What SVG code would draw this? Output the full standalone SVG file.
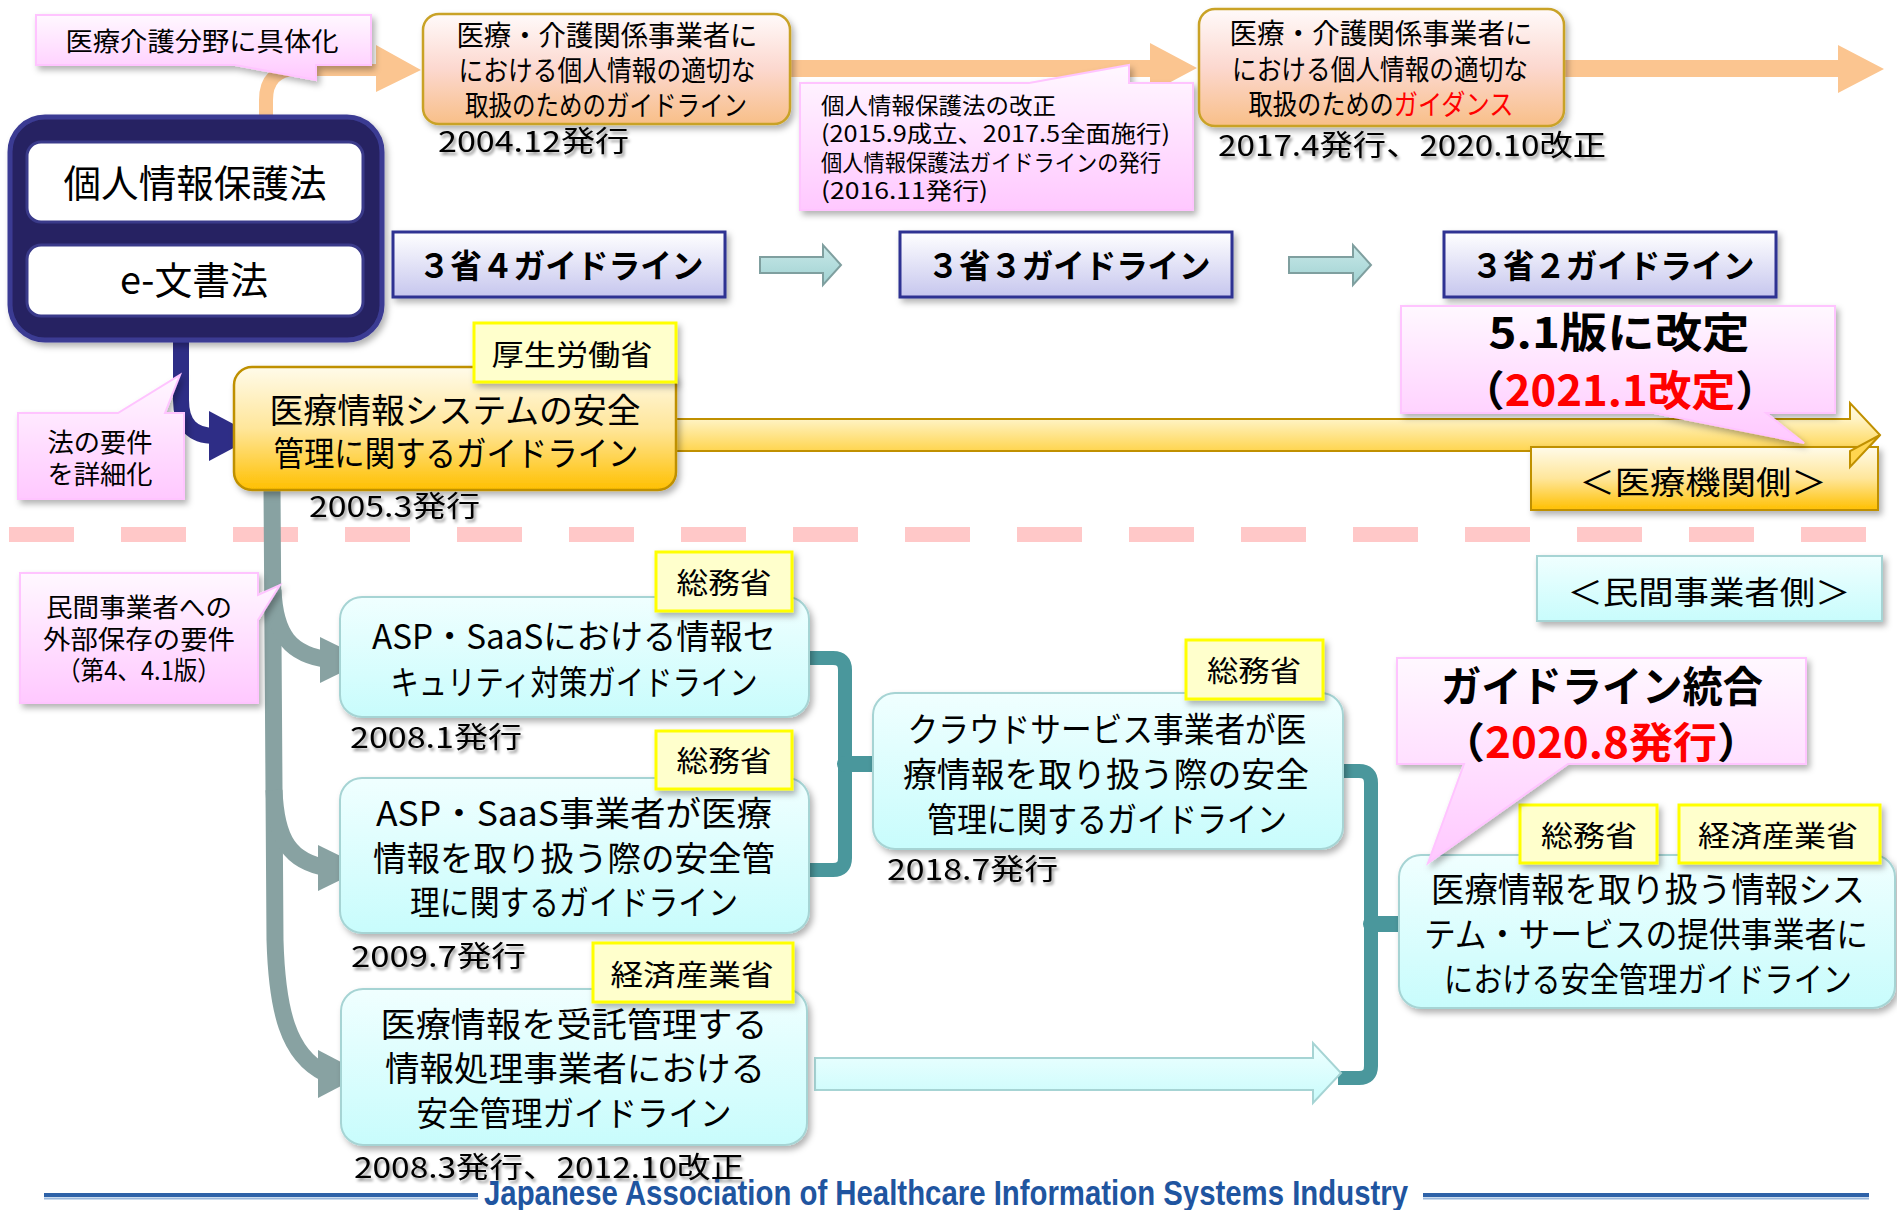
<svg xmlns="http://www.w3.org/2000/svg" width="1897" height="1210" viewBox="0 0 1897 1210">
<defs>
<style>
.t{font-family:'Noto Sans CJK JP','Noto Sans',sans-serif;fill:#000}
.c{text-anchor:middle}
.b{font-weight:bold}
.red{fill:#ff0000}
.f22{font-size:23px}.f26{font-size:26px}.f28{font-size:28px}.f29{font-size:29px}.f32{font-size:32px}.f34{font-size:34px}.f38{font-size:38px}.f42{font-size:42px}
.callout{fill:url(#gPink);stroke:#ffc4ff;stroke-width:2;filter:url(#sh)}
.orange{fill:url(#gOrange);stroke:#c9a227;stroke-width:2.5;filter:url(#sh)}
.lav{fill:url(#gLav);stroke:#2e3192;stroke-width:3;filter:url(#sh)}
.cyan{fill:url(#gCyan);stroke:#a6d4d4;stroke-width:2;filter:url(#sh)}
.lbl{fill:#ffffcc;stroke:#ffff00;stroke-width:3;filter:url(#sh)}
.date{filter:url(#ts)}
.oarrow{fill:#fbc590}
.gray{fill:none;stroke:#88a2a2;stroke-width:17}
.grayh{fill:#88a2a2}
.brk{fill:none;stroke:#4a979c;stroke-width:14}
.knob{fill:none;stroke:#4a979c;stroke-width:16;stroke-linecap:round}
.teal{fill:url(#gTeal);stroke:#7f9f9f;stroke-width:2}
</style>
<linearGradient id="gPink" x1="0" y1="0" x2="0" y2="1"><stop offset="0" stop-color="#fff8ff"/><stop offset="1" stop-color="#ffc8ff"/></linearGradient>
<linearGradient id="gOrange" x1="0" y1="0" x2="0" y2="1"><stop offset="0" stop-color="#fffafa"/><stop offset="0.5" stop-color="#fcd8cf"/><stop offset="1" stop-color="#f8bf88"/></linearGradient>
<linearGradient id="gLav" x1="0" y1="0" x2="0" y2="1"><stop offset="0" stop-color="#ffffff"/><stop offset="1" stop-color="#c6c6ee"/></linearGradient>
<linearGradient id="gCyan" x1="0" y1="0" x2="0" y2="1"><stop offset="0" stop-color="#f0ffff"/><stop offset="1" stop-color="#c8fcfc"/></linearGradient>
<linearGradient id="gAmber" x1="0" y1="0" x2="0" y2="1"><stop offset="0" stop-color="#fffbea"/><stop offset="0.5" stop-color="#ffe69a"/><stop offset="1" stop-color="#ffc000"/></linearGradient>
<linearGradient id="gArrow" x1="0" y1="0" x2="0" y2="1"><stop offset="0" stop-color="#fffbe6"/><stop offset="0.25" stop-color="#fff3c4"/><stop offset="0.75" stop-color="#ffd54f"/><stop offset="1" stop-color="#ffcc33"/></linearGradient>
<linearGradient id="gTeal" x1="0" y1="0" x2="0" y2="1"><stop offset="0" stop-color="#c8e8e8"/><stop offset="1" stop-color="#a0d2d2"/></linearGradient>
<filter id="sh" x="-10%" y="-10%" width="130%" height="140%"><feDropShadow dx="3" dy="4" stdDeviation="3" flood-color="#000" flood-opacity="0.3"/></filter>
<filter id="ts" x="-10%" y="-30%" width="130%" height="170%"><feDropShadow dx="2" dy="3" stdDeviation="1.8" flood-color="#000" flood-opacity="0.4"/></filter>
</defs>
<rect width="1897" height="1210" fill="#fff"/>

<g id="separator">
<line x1="9" y1="534.5" x2="1866" y2="534.5" stroke="#ffc8c8" stroke-width="15" stroke-dasharray="65 47"/>
</g>

<g id="connectors">
<path class="oarrow" d="M259,140 V100 Q259,64 296,64 H376 V45 L421,70 L376,92 V76 H296 Q273,76 273,100 V140 Z"/>
<path class="oarrow" d="M790,60 H1150 V43 L1197,68 L1150,93 V77 H790 Z"/>
<path class="oarrow" d="M1564,60 H1838 V45 L1884,69 L1838,93 V77 H1564 Z"/>
<path d="M181,340 V400 Q181,436 215,436" fill="none" stroke="#2e2d86" stroke-width="16"/>
<polygon points="209,411 256,436 209,461" fill="#2e2d86"/>
<path class="teal" d="M760,257 H823 V245 L841,265 L823,285 V273 H760 Z"/>
<path class="teal" d="M1289,257 H1353 V245 L1371,265 L1353,285 V273 H1289 Z"/>
<path d="M676,419 H1850 V403 L1880,435 L1850,467 V451 H676 Z" fill="url(#gArrow)" stroke="#c09000" stroke-width="2"/>
<path class="gray" d="M272,488 L275,940 C277,1010 288,1055 325,1073"/>
<path class="gray" d="M273,590 C275,635 290,655 330,660"/>
<polygon class="grayh" points="320,637 367,660 320,683"/>
<path class="gray" d="M274,790 C276,840 290,862 328,868"/>
<polygon class="grayh" points="318,845 365,868 318,891"/>
<polygon class="grayh" points="318,1050 364,1074 318,1098"/>
<path class="brk" d="M809,658 H833 Q845,658 845,670 V858 Q845,870 833,870 H809"/>
<path class="knob" d="M845,764 H872"/>
<path class="brk" d="M1343,771 H1359 Q1371,771 1371,783 V1066 Q1371,1078 1359,1078 H1338"/>
<path class="knob" d="M1371,924 H1404"/>
<path d="M815,1058 H1313 V1043 L1341,1073 L1313,1103 V1090 H815 Z" fill="url(#gCyan)" stroke="#a6d4d4" stroke-width="2"/>
</g>

<g id="callout-gutaika">
<path class="callout" d="M36,15 H371 V65 H316 V80 L235,65 H36 Z"/>
<text class="t c f26" x="202" y="51" textLength="273" lengthAdjust="spacingAndGlyphs">医療介護分野に具体化</text>
</g>

<g id="node-law">
<rect x="10" y="117" width="372" height="223" rx="35" fill="#262262" stroke="#3b3b93" stroke-width="5" filter="url(#sh)"/>
<rect x="27" y="142" width="336" height="80" rx="14" fill="#fff" stroke="#3a3a8a" stroke-width="3"/>
<text class="t c f38" x="195" y="197" textLength="263" lengthAdjust="spacingAndGlyphs">個人情報保護法</text>
<rect x="27" y="245" width="336" height="71" rx="14" fill="#fff" stroke="#3a3a8a" stroke-width="3"/>
<text class="t c f38" x="194" y="294" textLength="148" lengthAdjust="spacingAndGlyphs">e-文書法</text>
</g>

<g id="node-guideline-2004">
<rect class="orange" x="423" y="14" width="367" height="110" rx="16"/>
<text class="t c f28" x="607" y="46" textLength="301" lengthAdjust="spacingAndGlyphs">医療・介護関係事業者に</text>
<text class="t c f28" x="607" y="81" textLength="297" lengthAdjust="spacingAndGlyphs">における個人情報の適切な</text>
<text class="t c f28" x="606" y="116" textLength="282" lengthAdjust="spacingAndGlyphs">取扱のためのガイドライン</text>
<text class="t f29 date" x="438" y="152" textLength="191" lengthAdjust="spacingAndGlyphs">2004.12発行</text>
</g>

<g id="callout-kaisei">
<path class="callout" d="M800,83 H1029 L1129,65 V83 H1193 V210 H800 Z"/>
<text class="t f22" x="821" y="114" textLength="235" lengthAdjust="spacingAndGlyphs">個人情報保護法の改正</text>
<text class="t f22" x="821" y="142" textLength="349" lengthAdjust="spacingAndGlyphs">(2015.9成立、2017.5全面施行)</text>
<text class="t f22" x="821" y="171" textLength="340" lengthAdjust="spacingAndGlyphs">個人情報保護法ガイドラインの発行</text>
<text class="t f22" x="821" y="199" textLength="167" lengthAdjust="spacingAndGlyphs">(2016.11発行)</text>
</g>

<g id="node-guidance-2017">
<rect class="orange" x="1199" y="9" width="365" height="117" rx="16"/>
<text class="t c f28" x="1381" y="44" textLength="303" lengthAdjust="spacingAndGlyphs">医療・介護関係事業者に</text>
<text class="t c f28" x="1380" y="80" textLength="296" lengthAdjust="spacingAndGlyphs">における個人情報の適切な</text>
<text class="t c f28" x="1381" y="115" textLength="265" lengthAdjust="spacingAndGlyphs">取扱のための<tspan class="red">ガイダンス</tspan></text>
<text class="t f29 date" x="1218" y="156" textLength="388" lengthAdjust="spacingAndGlyphs">2017.4発行、2020.10改正</text>
</g>

<g id="node-3-4">
<rect class="lav" x="393" y="232" width="332" height="65"/>
<text class="t c b" style="font-size:33px" x="561" y="278" textLength="285" lengthAdjust="spacingAndGlyphs">３省４ガイドライン</text>
</g>
<g id="node-3-3">
<rect class="lav" x="900" y="232" width="332" height="65"/>
<text class="t c b" style="font-size:33px" x="1069" y="278" textLength="283" lengthAdjust="spacingAndGlyphs">３省３ガイドライン</text>
</g>
<g id="node-3-2">
<rect class="lav" x="1444" y="232" width="332" height="65"/>
<text class="t c b" style="font-size:33px" x="1613" y="278" textLength="283" lengthAdjust="spacingAndGlyphs">３省２ガイドライン</text>
</g>

<g id="callout-youken">
<path class="callout" d="M18,413 H118 L180,375 L165,413 H184 V499 H18 Z"/>
<text class="t c f26" x="100" y="452" textLength="105" lengthAdjust="spacingAndGlyphs">法の要件</text>
<text class="t c f26" x="100" y="484" textLength="105" lengthAdjust="spacingAndGlyphs">を詳細化</text>
</g>

<g id="node-mhlw-guideline">
<rect x="234" y="367" width="442" height="123" rx="18" fill="url(#gAmber)" stroke="#bf9000" stroke-width="2.5" filter="url(#sh)"/>
<text class="t c f34" x="455" y="423" textLength="371" lengthAdjust="spacingAndGlyphs">医療情報システムの安全</text>
<text class="t c f34" x="456" y="466" textLength="365" lengthAdjust="spacingAndGlyphs">管理に関するガイドライン</text>
<rect class="lbl" x="474" y="323" width="202" height="59"/>
<text class="t c f29" x="572" y="366" textLength="161" lengthAdjust="spacingAndGlyphs">厚生労働省</text>
<text class="t f29 date" x="309" y="517" textLength="171" lengthAdjust="spacingAndGlyphs">2005.3発行</text>
</g>

<g id="node-iryokikan">
<rect x="1531" y="447" width="347" height="63" fill="url(#gAmber)" stroke="#bf9000" stroke-width="2" filter="url(#sh)"/>
<text class="t c f32" x="1703" y="494" textLength="247" lengthAdjust="spacingAndGlyphs">＜医療機関側＞</text>
</g>
<path d="M1850,451 V467 L1880,435 Z" fill="#ffd54f" stroke="#c09000" stroke-width="2"/>

<g id="callout-51">
<path class="callout" d="M1401,306 H1835 V413 H1766 L1804,443 L1654,413 H1401 Z"/>
<text class="t c b f42" x="1619" y="348" textLength="261" lengthAdjust="spacingAndGlyphs">5.1版に改定</text>
<text class="t c b f42" x="1620" y="406" textLength="318" lengthAdjust="spacingAndGlyphs">（<tspan class="red">2021.1改定</tspan>）</text>
</g>

<g id="node-minkan">
<rect x="1537" y="556" width="345" height="65" fill="url(#gCyan)" stroke="#a6d4d4" stroke-width="2" filter="url(#sh)"/>
<text class="t c f32" x="1709" y="604" textLength="283" lengthAdjust="spacingAndGlyphs">＜民間事業者側＞</text>
</g>

<g id="callout-gaibu">
<path class="callout" d="M20,573 H258 V595 L280,585 L258,620 V703 H20 Z"/>
<text class="t c f26" x="139" y="617" textLength="186" lengthAdjust="spacingAndGlyphs">民間事業者への</text>
<text class="t c f26" x="139" y="649" textLength="192" lengthAdjust="spacingAndGlyphs">外部保存の要件</text>
<text class="t c f26" x="139" y="680" textLength="164" lengthAdjust="spacingAndGlyphs">（第4、4.1版）</text>
</g>

<g id="node-asp-security">
<rect class="cyan" x="340" y="597" width="469" height="120" rx="22"/>
<text class="t c f34" x="574" y="649" textLength="404" lengthAdjust="spacingAndGlyphs">ASP・SaaSにおける情報セ</text>
<text class="t c f34" x="574" y="695" textLength="367" lengthAdjust="spacingAndGlyphs">キュリティ対策ガイドライン</text>
<rect class="lbl" x="656" y="552" width="136" height="59"/>
<text class="t c f29" x="724" y="594" textLength="95" lengthAdjust="spacingAndGlyphs">総務省</text>
<text class="t f29 date" x="350" y="748" textLength="172" lengthAdjust="spacingAndGlyphs">2008.1発行</text>
</g>

<g id="node-asp-medical">
<rect class="cyan" x="340" y="778" width="469" height="155" rx="22"/>
<text class="t c f34" x="574" y="826" textLength="396" lengthAdjust="spacingAndGlyphs">ASP・SaaS事業者が医療</text>
<text class="t c f34" x="574" y="871" textLength="402" lengthAdjust="spacingAndGlyphs">情報を取り扱う際の安全管</text>
<text class="t c f34" x="574" y="915" textLength="328" lengthAdjust="spacingAndGlyphs">理に関するガイドライン</text>
<rect class="lbl" x="656" y="731" width="136" height="58"/>
<text class="t c f29" x="724" y="772" textLength="95" lengthAdjust="spacingAndGlyphs">総務省</text>
<text class="t f29 date" x="351" y="967" textLength="175" lengthAdjust="spacingAndGlyphs">2009.7発行</text>
</g>

<g id="node-jutaku">
<rect class="cyan" x="341" y="989" width="466" height="156" rx="22"/>
<text class="t c f34" x="574" y="1037" textLength="387" lengthAdjust="spacingAndGlyphs">医療情報を受託管理する</text>
<text class="t c f34" x="575" y="1081" textLength="380" lengthAdjust="spacingAndGlyphs">情報処理事業者における</text>
<text class="t c f34" x="574" y="1126" textLength="315" lengthAdjust="spacingAndGlyphs">安全管理ガイドライン</text>
<rect class="lbl" x="593" y="943" width="200" height="59"/>
<text class="t c f29" x="692" y="986" textLength="163" lengthAdjust="spacingAndGlyphs">経済産業省</text>
<text class="t f29 date" x="354" y="1178" textLength="390" lengthAdjust="spacingAndGlyphs">2008.3発行、2012.10改正</text>
</g>

<g id="node-cloud">
<rect class="cyan" x="873" y="693" width="470" height="156" rx="22"/>
<text class="t c f34" x="1107" y="742" textLength="399" lengthAdjust="spacingAndGlyphs">クラウドサービス事業者が医</text>
<text class="t c f34" x="1106" y="787" textLength="406" lengthAdjust="spacingAndGlyphs">療情報を取り扱う際の安全</text>
<text class="t c f34" x="1107" y="832" textLength="360" lengthAdjust="spacingAndGlyphs">管理に関するガイドライン</text>
<rect class="lbl" x="1186" y="640" width="137" height="59"/>
<text class="t c f29" x="1254" y="682" textLength="94" lengthAdjust="spacingAndGlyphs">総務省</text>
<text class="t f29 date" x="887" y="880" textLength="171" lengthAdjust="spacingAndGlyphs">2018.7発行</text>
</g>

<g id="node-integrated">
<rect class="cyan" x="1399" y="855" width="496" height="153" rx="22"/>
<text class="t c f34" x="1648" y="902" textLength="434" lengthAdjust="spacingAndGlyphs">医療情報を取り扱う情報シス</text>
<text class="t c f34" x="1646" y="947" textLength="444" lengthAdjust="spacingAndGlyphs">テム・サービスの提供事業者に</text>
<text class="t c f34" x="1648" y="992" textLength="408" lengthAdjust="spacingAndGlyphs">における安全管理ガイドライン</text>
<rect class="lbl" x="1520" y="805" width="137" height="58"/>
<text class="t c f29" x="1589" y="847" textLength="96" lengthAdjust="spacingAndGlyphs">総務省</text>
<rect class="lbl" x="1679" y="805" width="201" height="58"/>
<text class="t c f29" x="1778" y="847" textLength="160" lengthAdjust="spacingAndGlyphs">経済産業省</text>
</g>

<g id="callout-tougou">
<path class="callout" d="M1397,658 H1806 V764 H1568 L1428,863 L1464,764 H1397 Z"/>
<text class="t c b f42" x="1602" y="702" textLength="322" lengthAdjust="spacingAndGlyphs">ガイドライン統合</text>
<text class="t c b f42" x="1601" y="758" textLength="320" lengthAdjust="spacingAndGlyphs">（<tspan class="red">2020.8発行</tspan>）</text>
</g>

<g id="footer">
<line x1="44" y1="1195" x2="478" y2="1195" stroke="#2e62a8" stroke-width="4"/>
<line x1="44" y1="1198.5" x2="478" y2="1198.5" stroke="#9ab8dc" stroke-width="2"/>
<line x1="1423" y1="1195" x2="1869" y2="1195" stroke="#2e62a8" stroke-width="4"/>
<line x1="1423" y1="1198.5" x2="1869" y2="1198.5" stroke="#9ab8dc" stroke-width="2"/>
<text x="484" y="1205" style="font-family:'Liberation Sans Narrow','Liberation Sans',Arial,sans-serif;font-weight:bold;font-size:35px;fill:#1f55a0" textLength="924" lengthAdjust="spacingAndGlyphs">Japanese Association of Healthcare Information Systems Industry</text>
</g>
</svg>
